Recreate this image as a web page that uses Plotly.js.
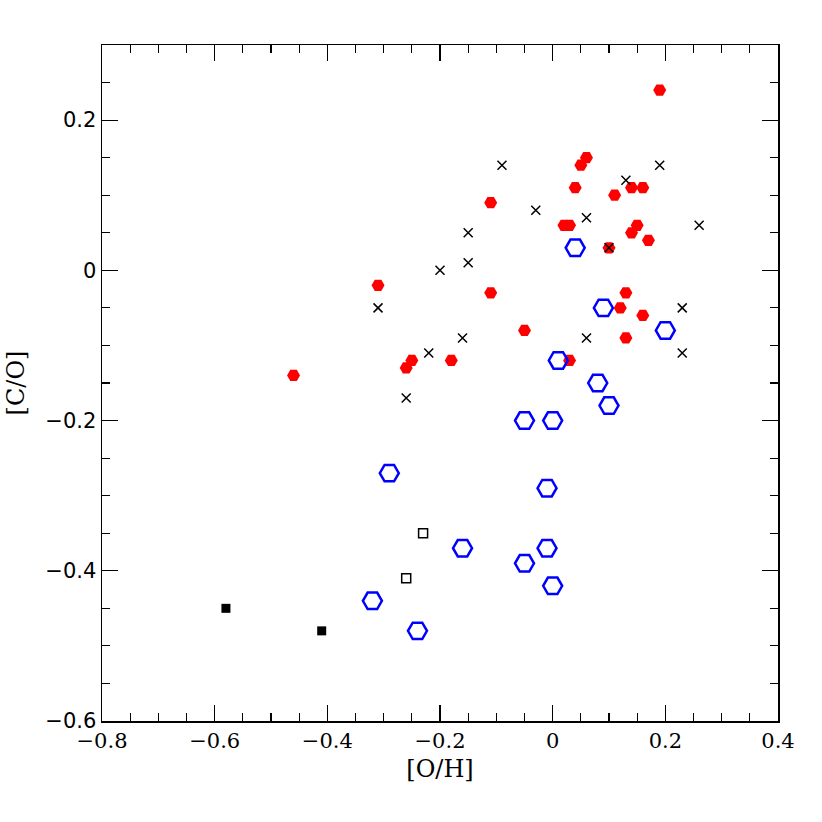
<!DOCTYPE html>
<html><head><meta charset="utf-8">
<script src="https://cdn.plot.ly/plotly-3.0.1.min.js"></script>
<style>html,body{margin:0;padding:0;background:#fff}</style>
</head><body>
<div id="chart" style="width:822px;height:822px"></div>
<script>
// Red filled hexagons
const redX = [0.19, 0.06, 0.05, 0.04, 0.14, 0.16, 0.11, 0.02, 0.03, 0.15, 0.14, 0.17, 0.10, 0.13, 0.12, 0.16, 0.13, 0.03, -0.11, -0.11, -0.31, -0.05, -0.18, -0.25, -0.26, -0.46];
const redY = [0.24, 0.15, 0.14, 0.11, 0.11, 0.11, 0.10, 0.06, 0.06, 0.06, 0.05, 0.04, 0.03, -0.03, -0.05, -0.06, -0.09, -0.12, 0.09, -0.03, -0.02, -0.08, -0.12, -0.12, -0.13, -0.14];
// Black crosses
const crossX = [-0.09, -0.03, -0.15, -0.15, -0.20, -0.31, -0.16, -0.22, -0.26, 0.13, 0.19, 0.06, 0.26, 0.10, 0.23, 0.06, 0.23];
const crossY = [0.14, 0.08, 0.05, 0.01, 0.00, -0.05, -0.09, -0.11, -0.17, 0.12, 0.14, 0.07, 0.06, 0.03, -0.05, -0.09, -0.11];
// Blue open hexagons
const blueX = [0.04, 0.09, 0.20, 0.01, 0.08, 0.10, -0.05, 0.00, -0.29, -0.01, -0.16, -0.01, -0.05, 0.00, -0.32, -0.24];
const blueY = [0.03, -0.05, -0.08, -0.12, -0.15, -0.18, -0.20, -0.20, -0.27, -0.29, -0.37, -0.37, -0.39, -0.42, -0.44, -0.48];
// Open squares
const openSqX = [-0.23, -0.26];
const openSqY = [-0.35, -0.41];
// Filled squares
const fillSqX = [-0.58, -0.41];
const fillSqY = [-0.45, -0.48];

const xTicks = [-0.8, -0.6, -0.4, -0.2, 0, 0.2, 0.4];
const xTickLabels = ["−0.8", "−0.6", "−0.4", "−0.2", "0", "0.2", "0.4"];
const yTicks = [-0.6, -0.4, -0.2, 0, 0.2];
const yTickLabels = ["−0.6", "−0.4", "−0.2", "0", "0.2"];

const traces = [
  {x: redX, y: redY, mode: 'markers', type: 'scatter',
   marker: {symbol: 'hexagon2', size: 13, color: '#ff0000', line: {width: 0}}},
  {x: blueX, y: blueY, mode: 'markers', type: 'scatter',
   marker: {symbol: 'hexagon2-open', size: 19, color: '#0000ff', line: {width: 2.5, color: '#0000ff'}}},
  {x: openSqX, y: openSqY, mode: 'markers', type: 'scatter',
   marker: {symbol: 'square-open', size: 9, color: '#000', line: {width: 1.5, color: '#000'}}},
  {x: fillSqX, y: fillSqY, mode: 'markers', type: 'scatter',
   marker: {symbol: 'square', size: 9, color: '#000'}},
  {x: crossX, y: crossY, mode: 'markers', type: 'scatter',
   marker: {symbol: 'x-thin-open', size: 9, color: '#000', line: {width: 1.5, color: '#000'}}}
];

const titleFont = {family: 'DejaVu Serif, serif', size: 24, color: '#000'};
const layout = {
  width: 822, height: 822,
  margin: {l: 102, r: 44, t: 45, b: 101},
  paper_bgcolor: '#fff', plot_bgcolor: '#fff',
  showlegend: false,
  xaxis: {
    range: [-0.8, 0.4], showgrid: false, zeroline: false,
    showline: true, linecolor: '#000', linewidth: 1.5, mirror: 'ticks',
    ticks: 'inside', ticklen: 16, tickwidth: 1.2, tickcolor: '#000',
    tickvals: xTicks, ticktext: xTickLabels,
    tickfont: {family: 'DejaVu Serif, serif', size: 21, color: '#000'},
    minor: {dtick: 0.05, ticks: 'inside', ticklen: 8, tickwidth: 1.2, tickcolor: '#000', showgrid: false},
    title: {text: '[O/H]', font: titleFont, standoff: 8}
  },
  yaxis: {
    range: [-0.6, 0.3], showgrid: false, zeroline: false,
    showline: true, linecolor: '#000', linewidth: 1.5, mirror: 'ticks',
    ticks: 'inside', ticklen: 16, tickwidth: 1.2, tickcolor: '#000',
    tickvals: yTicks, ticktext: yTickLabels,
    tickfont: {family: 'DejaVu Sans, sans-serif', size: 21, color: '#000'},
    minor: {dtick: 0.05, ticks: 'inside', ticklen: 8, tickwidth: 1.2, tickcolor: '#000', showgrid: false},
    title: {text: '[C/O]', font: titleFont, standoff: 14}
  }
};
Plotly.newPlot('chart', traces, layout, {displayModeBar: false, staticPlot: true});
</script>
</body></html>
